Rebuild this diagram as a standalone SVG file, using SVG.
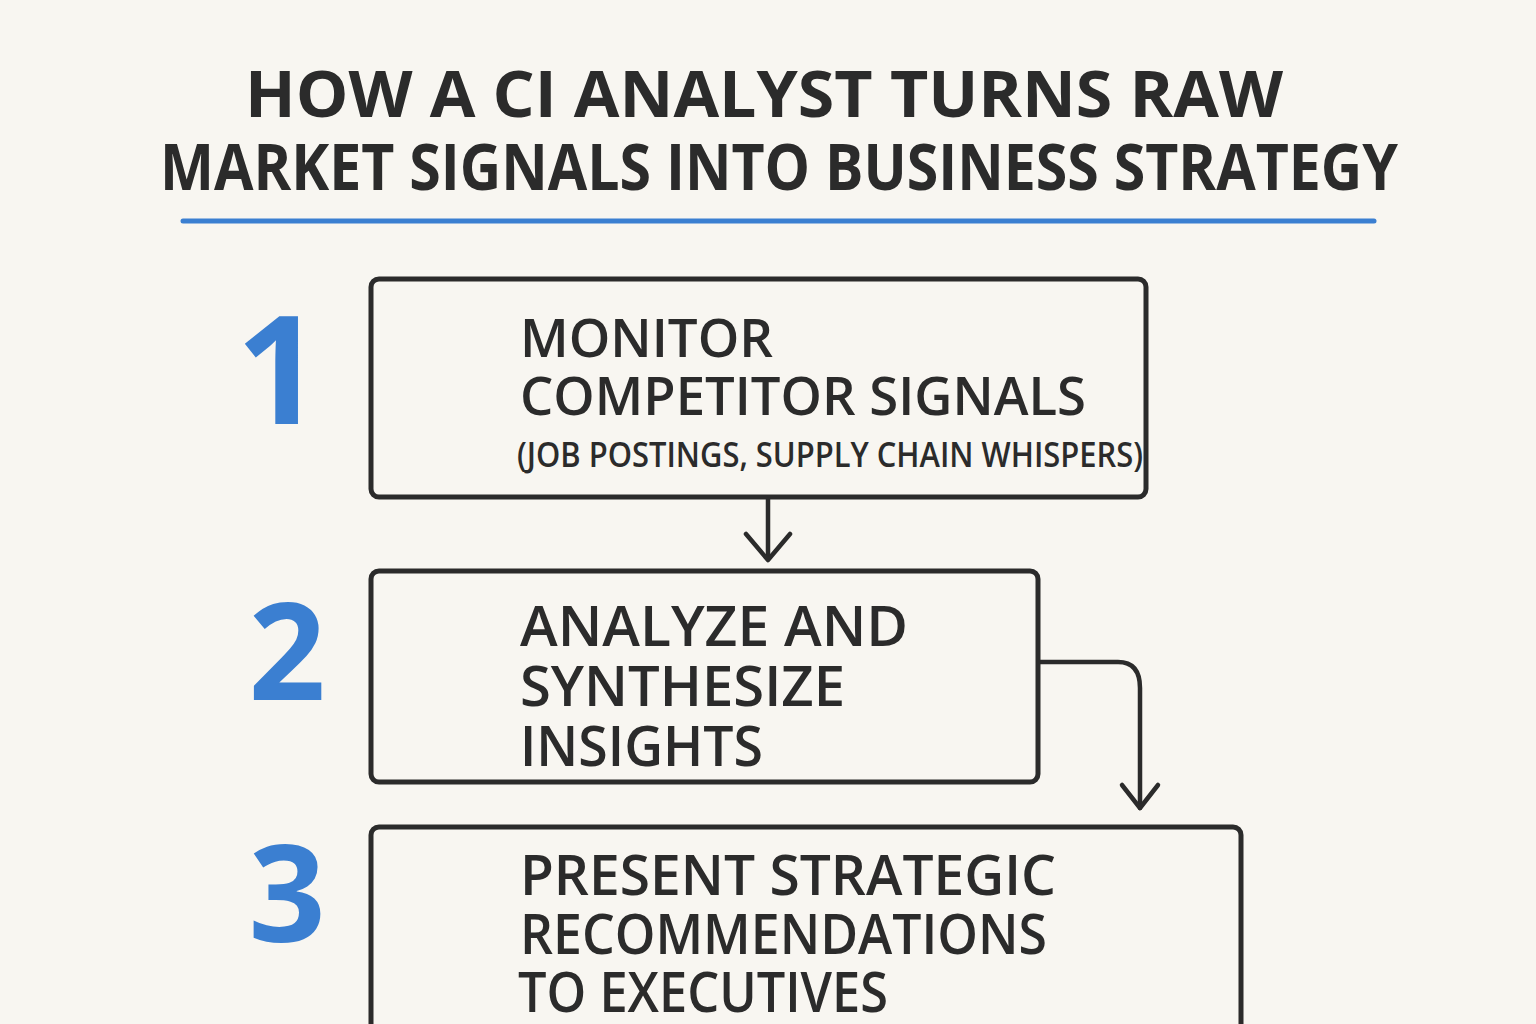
<svg xmlns="http://www.w3.org/2000/svg" width="1536" height="1024" viewBox="0 0 1536 1024">
<style>
.t{font-family:"Open Sans","Liberation Sans",sans-serif;font-weight:600;fill:#2b2b2b}
.h{font-weight:700}
.box{fill:none;stroke:#2b2b2b;stroke-width:5}
.num{font-family:"Open Sans","Liberation Sans",sans-serif;font-weight:700;fill:#3b7fd1}
.con{fill:none;stroke:#2b2b2b;stroke-width:4.5;stroke-linecap:round;stroke-linejoin:round}
</style>
<rect width="1536" height="1024" fill="#f8f6f1"/>
<g id="title">
<text class="t h" x="245" y="117" font-size="64" textLength="1038" lengthAdjust="spacingAndGlyphs">HOW A CI ANALYST TURNS RAW</text>
<text class="t h" x="160" y="190" font-size="64" textLength="1238" lengthAdjust="spacingAndGlyphs">MARKET SIGNALS INTO BUSINESS STRATEGY</text>
<line x1="183" y1="221" x2="1374" y2="221" stroke="#3b7fd1" stroke-width="5" stroke-linecap="round"/>
</g>
<g id="connectors">
<path class="con" d="M768 499 V559"/>
<path class="con" d="M746 534 L768 560 L790 534"/>
<path class="con" d="M1040 662 H1118 Q1140 662 1140 688 V808"/>
<path class="con" d="M1122 785 L1140 808 L1158 785"/>
</g>
<g id="step1">
<text class="num" x="279" y="424" font-size="150" text-anchor="middle">1</text>
<rect class="box" x="371" y="279" width="775" height="218" rx="8"/>
<text class="t" x="520" y="357" font-size="52" textLength="253" lengthAdjust="spacingAndGlyphs">MONITOR</text>
<text class="t" x="520" y="415" font-size="52" textLength="566" lengthAdjust="spacingAndGlyphs">COMPETITOR SIGNALS</text>
<text class="t" x="517" y="467" font-size="34" textLength="626" lengthAdjust="spacingAndGlyphs">(JOB POSTINGS, SUPPLY CHAIN WHISPERS)</text>
</g>
<g id="step2">
<text class="num" x="287" y="700" font-size="135" text-anchor="middle">2</text>
<rect class="box" x="371" y="571" width="667" height="211" rx="8"/>
<text class="t" x="520" y="646" font-size="56" textLength="388" lengthAdjust="spacingAndGlyphs">ANALYZE AND</text>
<text class="t" x="520" y="706" font-size="56" textLength="325" lengthAdjust="spacingAndGlyphs">SYNTHESIZE</text>
<text class="t" x="520" y="766" font-size="56" textLength="243" lengthAdjust="spacingAndGlyphs">INSIGHTS</text>
</g>
<g id="step3">
<text class="num" x="287" y="942" font-size="135" text-anchor="middle">3</text>
<rect class="box" x="371" y="827" width="870" height="220" rx="8"/>
<text class="t" x="520" y="895" font-size="56" textLength="536" lengthAdjust="spacingAndGlyphs">PRESENT STRATEGIC</text>
<text class="t" x="520" y="954" font-size="56" textLength="527" lengthAdjust="spacingAndGlyphs">RECOMMENDATIONS</text>
<text class="t" x="518" y="1012" font-size="56" textLength="370" lengthAdjust="spacingAndGlyphs">TO EXECUTIVES</text>
</g>
</svg>
